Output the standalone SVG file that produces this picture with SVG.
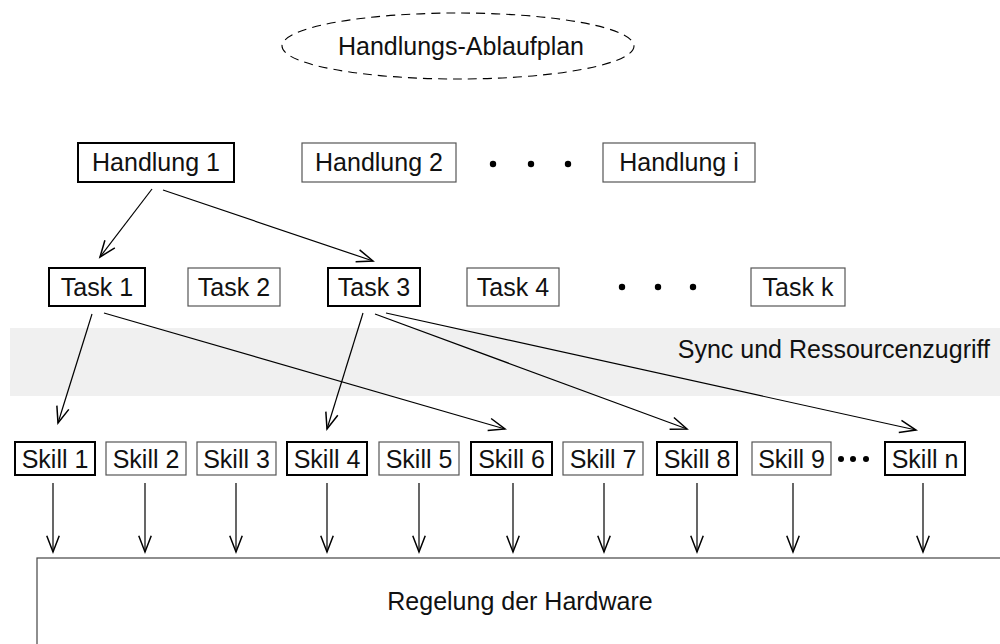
<svg xmlns="http://www.w3.org/2000/svg" width="1000" height="644" viewBox="0 0 1000 644">
<style>
text{font-family:"Liberation Sans",Arial,sans-serif;font-size:25px;fill:#111;text-anchor:middle}
.bold{fill:#fff;stroke:#000;stroke-width:2}
.thin{fill:#fff;stroke:#555;stroke-width:1.2}
.edge{stroke:#000;stroke-width:1.2;fill:none;marker-end:url(#arr)}
.dot{fill:#000}
</style>
<defs>
<marker id="arr" markerUnits="userSpaceOnUse" markerWidth="20" markerHeight="20" viewBox="-14 -7 16 14" refX="0" refY="0" orient="auto">
<path d="M-13,-5 L0,0 L-13,5" fill="none" stroke="#000" stroke-width="1.2"/>
</marker>
</defs>
<rect x="10" y="328" width="990" height="68" fill="#f0f0f0"/>
<text x="990" y="358" style="text-anchor:end">Sync und Ressourcenzugriff</text>
<g id="plan">
<ellipse cx="458" cy="46" rx="176" ry="33" fill="none" stroke="#000" stroke-width="1.1" stroke-dasharray="9,6"/>
<text x="461" y="55">Handlungs-Ablaufplan</text>
</g>
<g id="handlung1"><rect class="bold" x="78" y="143" width="156" height="39"/><text x="156" y="171">Handlung 1</text></g>
<g id="handlung2"><rect class="thin" x="302" y="143" width="154" height="39"/><text x="379" y="171">Handlung 2</text></g>
<g id="dots1"><circle class="dot" cx="493" cy="164" r="3.2"/><circle class="dot" cx="531" cy="164" r="3.2"/><circle class="dot" cx="568" cy="164" r="3.2"/></g>
<g id="handlungi"><rect class="thin" x="603" y="143" width="152" height="39"/><text x="679" y="171">Handlung i</text></g>
<g id="task1"><rect class="bold" x="49" y="268" width="96" height="38"/><text x="97" y="296">Task 1</text></g>
<g id="task2"><rect class="thin" x="188" y="268" width="92" height="38"/><text x="234" y="296">Task 2</text></g>
<g id="task3"><rect class="bold" x="328" y="268" width="92" height="38"/><text x="374" y="296">Task 3</text></g>
<g id="task4"><rect class="thin" x="467" y="268" width="92" height="38"/><text x="513" y="296">Task 4</text></g>
<g id="dots2"><circle class="dot" cx="622" cy="287" r="3.2"/><circle class="dot" cx="658" cy="287" r="3.2"/><circle class="dot" cx="693" cy="287" r="3.2"/></g>
<g id="taskk"><rect class="thin" x="751" y="268" width="94" height="38"/><text x="798" y="296">Task k</text></g>
<g id="skill1"><rect class="bold" x="15" y="442" width="80" height="33"/><text x="55" y="468">Skill 1</text></g>
<g id="skill2"><rect class="thin" x="106" y="442" width="80" height="33"/><text x="146" y="468">Skill 2</text></g>
<g id="skill3"><rect class="thin" x="197" y="442" width="79" height="33"/><text x="236.5" y="468">Skill 3</text></g>
<g id="skill4"><rect class="bold" x="287" y="442" width="80" height="33"/><text x="327" y="468">Skill 4</text></g>
<g id="skill5"><rect class="thin" x="379" y="442" width="80" height="33"/><text x="419" y="468">Skill 5</text></g>
<g id="skill6"><rect class="bold" x="471" y="442" width="81" height="33"/><text x="511.5" y="468">Skill 6</text></g>
<g id="skill7"><rect class="thin" x="563" y="442" width="80" height="33"/><text x="603" y="468">Skill 7</text></g>
<g id="skill8"><rect class="bold" x="657" y="442" width="80" height="33"/><text x="697" y="468">Skill 8</text></g>
<g id="skill9"><rect class="thin" x="752" y="442" width="79" height="33"/><text x="791.5" y="468">Skill 9</text></g>
<g id="dots3"><circle class="dot" cx="841" cy="459" r="3"/><circle class="dot" cx="853" cy="459" r="3"/><circle class="dot" cx="866" cy="459" r="3"/></g>
<g id="skilln"><rect class="bold" x="885" y="442" width="80" height="33"/><text x="925" y="468">Skill n</text></g>
<g id="hardware"><rect x="37" y="558" width="980" height="100" fill="#fff" stroke="#444" stroke-width="1.2"/><text x="520" y="610">Regelung der Hardware</text></g>
<g id="connectors">
<line class="edge" x1="152" y1="189" x2="100" y2="257"/>
<line class="edge" x1="163" y1="190" x2="373" y2="261"/>
<line class="edge" x1="92" y1="314" x2="58" y2="423"/>
<line class="edge" x1="104" y1="313" x2="505" y2="429"/>
<line class="edge" x1="363" y1="313" x2="327" y2="429"/>
<line class="edge" x1="375" y1="314" x2="687" y2="429"/>
<line class="edge" x1="386" y1="313" x2="916" y2="430"/>
<line class="edge" x1="53" y1="483" x2="53" y2="552"/>
<line class="edge" x1="145" y1="483" x2="145" y2="552"/>
<line class="edge" x1="236" y1="483" x2="236" y2="552"/>
<line class="edge" x1="327" y1="483" x2="327" y2="552"/>
<line class="edge" x1="419" y1="483" x2="419" y2="552"/>
<line class="edge" x1="513" y1="483" x2="513" y2="552"/>
<line class="edge" x1="604" y1="483" x2="604" y2="552"/>
<line class="edge" x1="697" y1="483" x2="697" y2="552"/>
<line class="edge" x1="793" y1="483" x2="793" y2="552"/>
<line class="edge" x1="923" y1="483" x2="923" y2="552"/>
</g>
</svg>
